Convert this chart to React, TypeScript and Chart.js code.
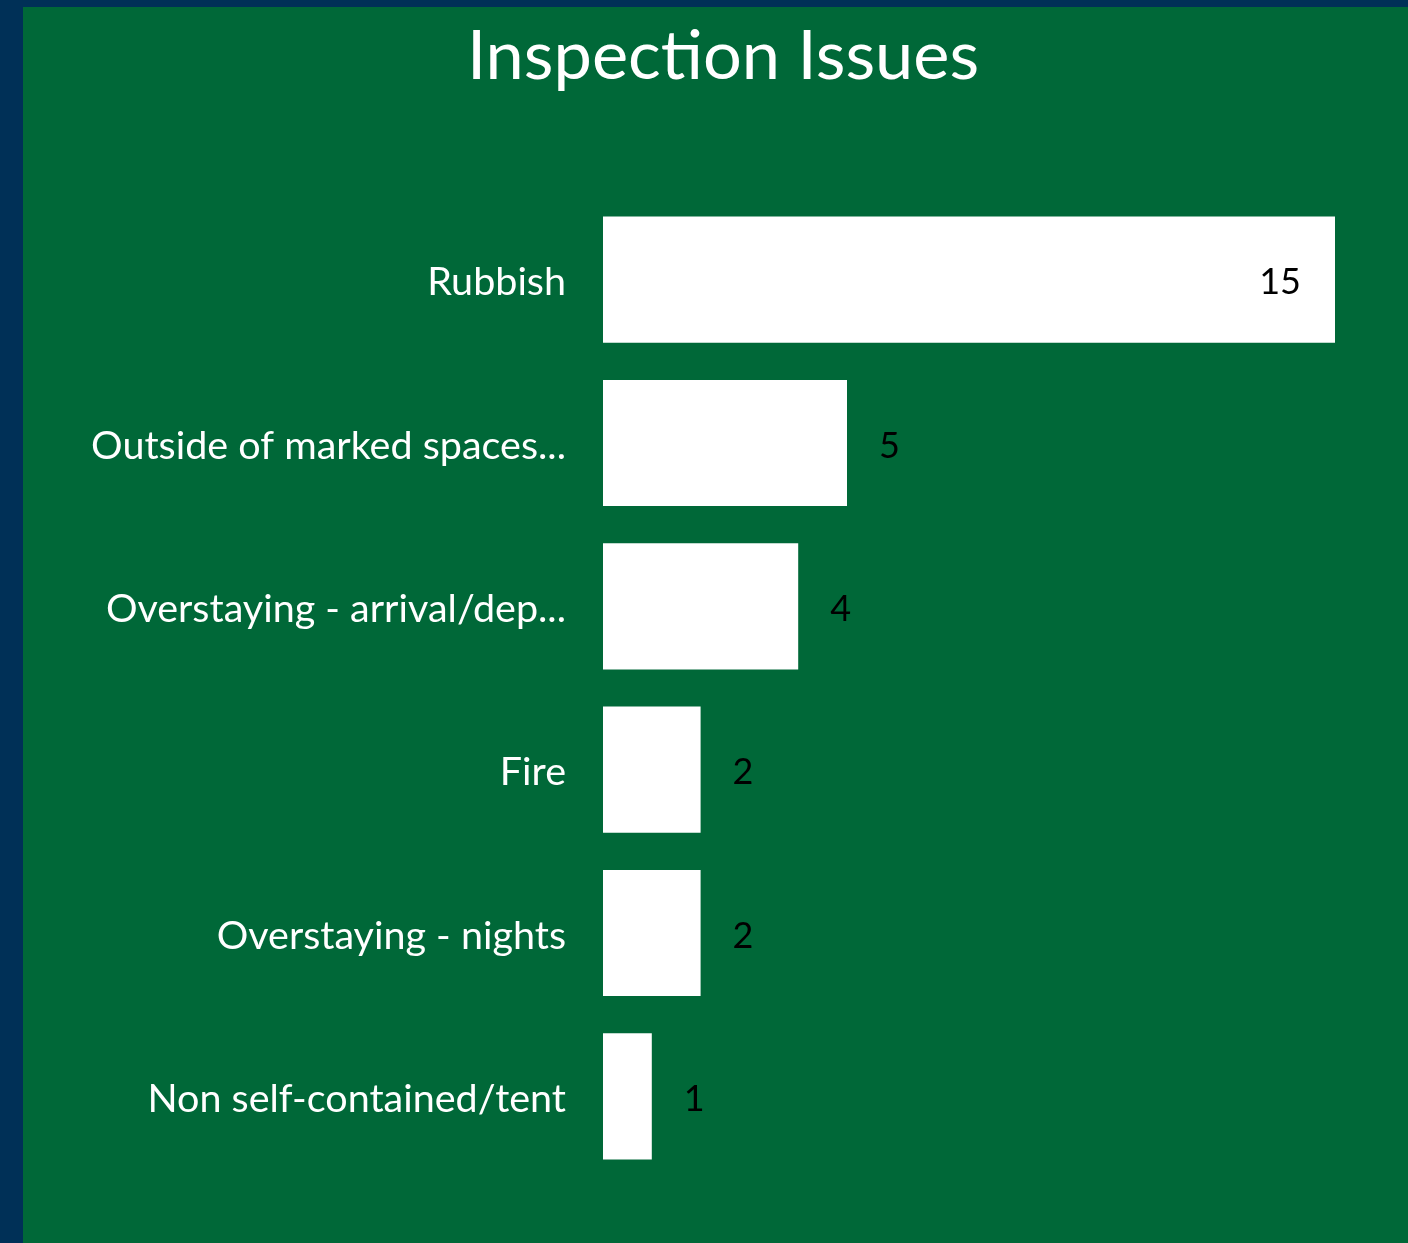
import React, { useEffect, useRef } from "react";
import { Chart, registerables } from "chart.js";

Chart.register(...registerables);

const categories = [
  "Rubbish",
  "Outside of marked spaces...",
  "Overstaying - arrival/dep...",
  "Fire",
  "Overstaying - nights",
  "Non self-contained/tent",
];
const issueCounts = [15, 5, 4, 2, 2, 1];
const chartTitle = "Inspection Issues";

const FONT = "Lato, 'Open Sans', sans-serif";
const GREEN = "#006838";
const BLUE = "#003057";

const bgPlugin = {
  id: "bgPlugin",
  beforeDraw(chart: any) {
    const { ctx, width, height } = chart;
    ctx.save();
    ctx.fillStyle = BLUE;
    ctx.fillRect(0, 0, width, height);
    ctx.fillStyle = GREEN;
    ctx.fillRect(23, 7, width - 23, height - 7);
    ctx.fillStyle = "#ffffff";
    ctx.font = `68.5px ${FONT}`;
    ctx.textAlign = "center";
    ctx.textBaseline = "middle";
    ctx.fillText(chartTitle, 723, 57);
    ctx.restore();
  },
};

const labelPlugin = {
  id: "labelPlugin",
  afterDatasetsDraw(chart: any) {
    const { ctx } = chart;
    const meta = chart.getDatasetMeta(0);
    const data = chart.data.datasets[0].data as number[];
    const max = Math.max(...data);
    ctx.save();
    ctx.font = `36px ${FONT}`;
    ctx.fillStyle = "#000000";
    ctx.textBaseline = "middle";
    meta.data.forEach((bar: any, i: number) => {
      const v = data[i];
      if (v === max) {
        ctx.textAlign = "right";
        ctx.fillText(String(v), bar.x - 34, bar.y + 3);
      } else {
        ctx.textAlign = "left";
        ctx.fillText(String(v), bar.x + 32, bar.y + 3);
      }
    });
    ctx.restore();
  },
};

export default function App() {
  const ref = useRef<HTMLCanvasElement | null>(null);
  useEffect(() => {
    document.body.style.margin = "0";
    const chart = new Chart(ref.current as HTMLCanvasElement, {
      type: "bar",
      data: {
        labels: categories,
        datasets: [
          {
            data: issueCounts,
            backgroundColor: "#ffffff",
            borderWidth: 0,
            barPercentage: 0.772,
            categoryPercentage: 1,
          },
        ],
      },
      options: {
        indexAxis: "y",
        animation: false,
        responsive: false,
        maintainAspectRatio: false,
        layout: { padding: { top: 198, bottom: 65, right: 73, left: 0 } },
        plugins: {
          legend: { display: false },
          title: { display: false },
          tooltip: { enabled: false },
        },
        scales: {
          x: { display: false, min: 0, max: 15 },
          y: {
            grid: { display: false, drawTicks: false },
            border: { display: false },
            ticks: {
              color: "#ffffff",
              font: { family: FONT, size: 39.5 },
              padding: 37,
              labelOffset: 3,
            },
            afterFit(scale: any) {
              scale.width = 603;
            },
          },
        },
      },
      plugins: [bgPlugin, labelPlugin],
    });
    return () => chart.destroy();
  }, []);
  return (
    <div style={{ width: 1408, height: 1243 }}>
      <canvas ref={ref} width={1408} height={1243} style={{ display: "block" }} />
    </div>
  );
}
